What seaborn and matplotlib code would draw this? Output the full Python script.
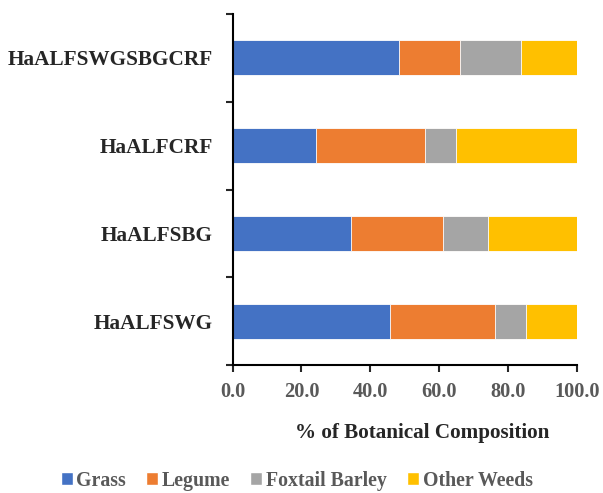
import pandas as pd
import seaborn as sns
import matplotlib.pyplot as plt
from matplotlib.patches import Patch

sns.set_style('white')
plt.rcParams['font.family'] = ['Liberation Serif', 'DejaVu Serif']
plt.rcParams['font.weight'] = 'bold'

# data (% of botanical composition)
treatments = ['HaALFSWGSBGCRF', 'HaALFCRF', 'HaALFSBG', 'HaALFSWG']
components = ['Grass', 'Legume', 'Foxtail Barley', 'Other Weeds']
grass = [48.3, 24.1, 34.4, 45.6]
legume = [17.7, 31.7, 26.6, 30.6]
foxtail = [17.7, 9.1, 13.1, 9.1]
other_weeds = [16.3, 35.1, 25.9, 14.7]
colours = ['#4472C4', '#ED7D31', '#A5A5A5', '#FFC000']

df = pd.DataFrame({'treatment': treatments, 'Grass': grass, 'Legume': legume,
                   'Foxtail Barley': foxtail, 'Other Weeds': other_weeds})
# cumulative totals, drawn largest first so each layer covers the next
cum = df[components].cumsum(axis=1)
cum['treatment'] = df['treatment']

fig = plt.figure(figsize=(6.03, 4.93), dpi=100)
ax = fig.add_axes([0.3856, 0.2596, 0.5713, 0.712])

for comp, col in reversed(list(zip(components, colours))):
    sns.barplot(data=cum, x=comp, y='treatment', color=col, width=0.4,
                orient='h', order=treatments, ax=ax, saturation=1,
                edgecolor='white', linewidth=0.6)

ax.set_xlim(0, 100)
ax.set_ylim(3.5, -0.5)
ax.set_xticks(range(0, 101, 20))
ax.set_xticklabels([f'{v:.1f}' for v in range(0, 101, 20)],
                   fontsize=14.7, fontweight='bold', color='#595959')

# category boundaries carry the tick marks, labels sit at category centres
ax.set_yticks([-0.5, 0.5, 1.5, 2.5, 3.5])
ax.set_yticklabels([])
ax.set_yticks(range(len(treatments)), minor=True)
ax.set_yticklabels(treatments, minor=True, fontsize=15.3, fontweight='bold')
ax.tick_params(axis='y', which='minor', length=0, pad=14)
ax.tick_params(axis='y', which='major', length=5, width=1.5, direction='out', left=True)
ax.tick_params(axis='x', length=5, width=1.5, direction='out', bottom=True, pad=7)

for side in ['top', 'right']:
    ax.spines[side].set_visible(False)
for side in ['left', 'bottom']:
    ax.spines[side].set_color('black')
    ax.spines[side].set_linewidth(1.5)

ax.set_ylabel('')
ax.set_xlabel('% of Botanical Composition', fontsize=15.2, fontweight='bold')
ax.xaxis.set_label_coords(0.55, -0.194)
ax.xaxis.label.set_va('center')

handles = [Patch(facecolor=c, label=n) for n, c in zip(components, colours)]
fig.legend(handles=handles, loc='center', bbox_to_anchor=(0.492, 0.025), ncol=4,
           frameon=False, handlelength=0.6, handleheight=0.6, handletextpad=0.2,
           columnspacing=1.0, prop={'size': 14.3, 'weight': 'bold'}, labelcolor='#595959')

plt.savefig('out.png', dpi=100)
plt.close()
